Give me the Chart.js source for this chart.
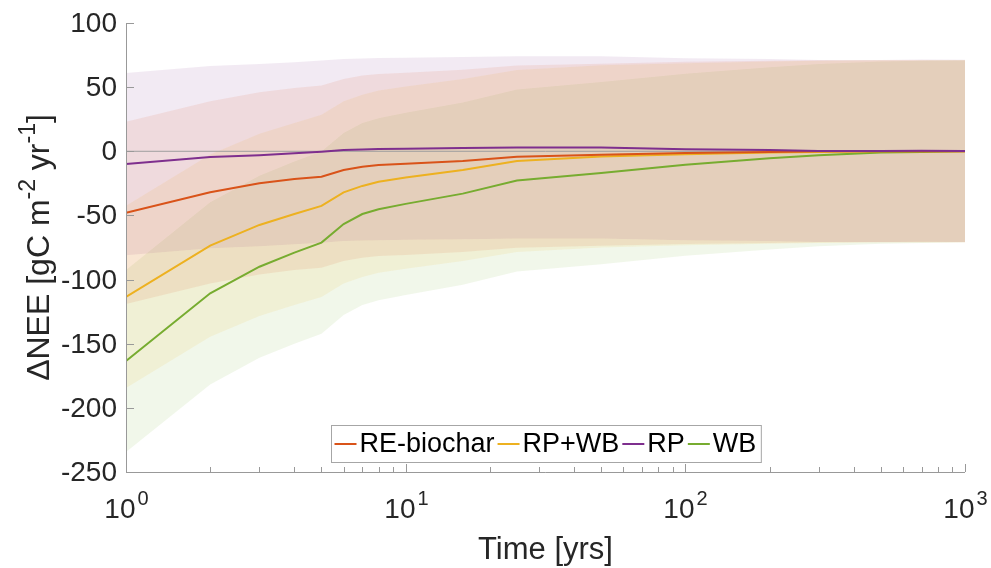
<!DOCTYPE html>
<html lang="en">
<head>
  <meta charset="UTF-8" />
  <title>NEE difference over time</title>
  <script src="https://cdn.jsdelivr.net/npm/chart.js"></script>
  <style>
    html, body { margin: 0; padding: 0; background: #fff; }
    #neeChart { display: block; }
  </style>
</head>
<body>
  <canvas id="neeChart" width="991" height="568"></canvas>
  <script>
    // values
    const years = [1, 2, 3, 4, 5, 6, 7, 8, 10, 16, 25, 50, 100, 200, 300, 500, 700, 1000];
    const reBiochar = [-48, -32, -25, -21.6, -19.8, -14.6, -12, -10.7, -9.8, -7.5, -4.2, -2.7, -1.3, -0.5, 0, 0, 0, 0];
    const rpWb = [-113.5, -73.5, -57.4, -48.9, -42.6, -32, -27, -23.7, -20.5, -14.6, -7.6, -4, -2.3, -1, -0.5, 0, 0, 0];
    const rp = [-10, -4.5, -3, -1.5, -0.3, 1, 1.4, 1.7, 2, 2.5, 3, 3, 1.6, 1, 0.2, 0.2, 0.5, 0.3];
    const wb = [-163.5, -110.7, -90, -79, -71.2, -56.7, -48.9, -45.2, -41, -33, -22.8, -17, -10.5, -5.5, -3, -1, -0.5, 0];
    // half width of the shaded band around each mean
    const halfWidth = [71, 71, 71, 71, 71, 71, 71, 71, 71, 71, 71, 71, 71, 71, 71, 71, 71, 71];

    const seriesNames = ['RE-biochar', 'RP+WB', 'RP', 'WB'];
    const seriesValues = [reBiochar, rpWb, rp, wb];
    const seriesColors = ['#D95319', '#EDB120', '#7E2F8E', '#77AC30'];
    const bandColors = ['rgba(217,83,25,0.1)', 'rgba(237,177,32,0.1)', 'rgba(126,47,142,0.1)', 'rgba(119,172,48,0.1)'];
    const lineOrder = [1, 2, 0, 3];

    const yTicks = [100, 50, 0, -50, -100, -150, -200, -250];
    const xMajorTicks = [1, 10, 100, 1000];
    const xTickExp = ['0', '1', '2', '3'];

    const FONT = "'Liberation Sans', Arial, Helvetica, sans-serif";
    const TEXT = '#262626';
    const AXIS = '#999999';

    const pts = (vals, off, sign) => years.map((t, i) => ({ x: t, y: vals[i] + (off ? sign * off[i] : 0) }));

    const datasets = [];
    // bands (lower, then upper filled to lower)
    seriesValues.forEach((vals, i) => {
      datasets.push({
        data: pts(vals, halfWidth, -1),
        borderWidth: 0, pointRadius: 0, fill: false, order: 10
      });
      datasets.push({
        data: pts(vals, halfWidth, 1),
        borderWidth: 0, pointRadius: 0, fill: '-1',
        backgroundColor: bandColors[i], order: 10
      });
    });
    // zero reference line
    datasets.push({
      data: [{ x: years[0], y: 0 }, { x: years[years.length - 1], y: 0 }],
      borderColor: '#9e9e9e', borderWidth: 1, pointRadius: 0, fill: false, order: 5
    });
    // mean lines
    seriesValues.forEach((vals, i) => {
      datasets.push({
        label: seriesNames[i],
        data: pts(vals),
        borderColor: seriesColors[i], borderWidth: 2,
        pointRadius: 0, fill: false, tension: 0, order: lineOrder[i]
      });
    });

    const axesPlugin = {
      id: 'matlabAxes',
      afterDraw(chart) {
        const ctx = chart.ctx;
        const xs = chart.scales.x, ys = chart.scales.y;
        const area = chart.chartArea;
        ctx.save();

        // axis lines
        ctx.strokeStyle = AXIS;
        ctx.lineWidth = 1;
        ctx.beginPath();
        ctx.moveTo(area.left + 0.5, area.top);
        ctx.lineTo(area.left + 0.5, area.bottom + 0.5);
        ctx.lineTo(area.right, area.bottom + 0.5);
        ctx.stroke();

        // y ticks + labels
        ctx.font = '28px ' + FONT;
        ctx.fillStyle = TEXT;
        ctx.textAlign = 'right';
        ctx.textBaseline = 'middle';
        yTicks.forEach(v => {
          const y = Math.round(ys.getPixelForValue(v)) + 0.5;
          ctx.beginPath();
          ctx.moveTo(area.left, y);
          ctx.lineTo(area.left + 8, y);
          ctx.stroke();
          ctx.fillText(String(v), area.left - 9, y + 1);
        });

        // x minor ticks
        for (let d = 1; d < 1000; d *= 10) {
          for (let k = 2; k <= 9; k++) {
            const x = Math.round(xs.getPixelForValue(k * d)) + 0.5;
            ctx.beginPath();
            ctx.moveTo(x, area.bottom);
            ctx.lineTo(x, area.bottom - 5);
            ctx.stroke();
          }
        }
        // x major ticks + labels like 10^n
        ctx.textBaseline = 'alphabetic';
        ctx.textAlign = 'left';
        xMajorTicks.forEach((v, i) => {
          const x = Math.round(xs.getPixelForValue(v)) + 0.5;
          ctx.beginPath();
          ctx.moveTo(x, area.bottom);
          ctx.lineTo(x, area.bottom - 8);
          ctx.stroke();
          ctx.font = '28px ' + FONT;
          const wBase = ctx.measureText('10').width;
          ctx.font = '20px ' + FONT;
          const wExp = ctx.measureText(xTickExp[i]).width;
          const x0 = x - (wBase + wExp + 2) / 2;
          ctx.font = '28px ' + FONT;
          ctx.fillText('10', x0, area.bottom + 46);
          ctx.font = '20px ' + FONT;
          ctx.fillText(xTickExp[i], x0 + wBase + 2, area.bottom + 33);
        });

        // x title
        ctx.font = '31px ' + FONT;
        ctx.textAlign = 'center';
        ctx.fillText('Time [yrs]', (area.left + area.right) / 2, area.bottom + 87);

        // y title with superscripts
        const parts = [
          ['ΔNEE [gC m', false], ['-2', true], [' yr', false], ['-1', true], [']', false]
        ];
        const fontFor = sup => (sup ? '23px ' : '32px ') + FONT;
        let total = 0;
        parts.forEach(p => { ctx.font = fontFor(p[1]); total += ctx.measureText(p[0]).width; });
        ctx.translate(49, (area.top + area.bottom) / 2);
        ctx.rotate(-Math.PI / 2);
        ctx.textAlign = 'left';
        let cx = -total / 2;
        parts.forEach(p => {
          ctx.font = fontFor(p[1]);
          ctx.fillText(p[0], cx, p[1] ? -14 : 0);
          cx += ctx.measureText(p[0]).width;
        });
        ctx.setTransform(1, 0, 0, 1, 0, 0);

        // legend box, inside the plot at the bottom
        ctx.font = '27px ' + FONT;
        const lineLen = 22, gap = 3, padL = 3, padR = 5;
        const widths = seriesNames.map(n => lineLen + gap + ctx.measureText(n).width + gap);
        const boxW = padL + widths.reduce((a, b) => a + b, 0) + padR - gap;
        const boxH = 37;
        const bx = Math.round((area.left + area.right) / 2 - boxW / 2) + 0.5;
        const by = Math.round(area.bottom - 10 - boxH) + 0.5;
        ctx.fillStyle = '#ffffff';
        ctx.fillRect(bx, by, boxW, boxH);
        ctx.strokeStyle = '#a6a6a6';
        ctx.strokeRect(bx, by, boxW, boxH);
        let lx = bx + padL;
        const ly = by + boxH / 2;
        ctx.textBaseline = 'middle';
        seriesNames.forEach((n, i) => {
          ctx.strokeStyle = seriesColors[i];
          ctx.lineWidth = 2;
          ctx.beginPath();
          ctx.moveTo(lx, ly);
          ctx.lineTo(lx + lineLen, ly);
          ctx.stroke();
          ctx.fillStyle = '#000';
          ctx.fillText(n, lx + lineLen + gap, ly + 1);
          lx += widths[i];
        });
        ctx.restore();
      }
    };

    new Chart(document.getElementById('neeChart').getContext('2d'), {
      type: 'line',
      data: { datasets },
      options: {
        responsive: false,
        animation: false,
        layout: { padding: { left: 126, right: 26, top: 23, bottom: 96 } },
        scales: {
          x: { type: 'logarithmic', min: 1, max: 1000, display: false },
          y: { type: 'linear', min: -250, max: 100, display: false }
        },
        plugins: {
          legend: { display: false },
          tooltip: { enabled: false }
        }
      },
      plugins: [axesPlugin]
    });
  </script>
</body>
</html>
